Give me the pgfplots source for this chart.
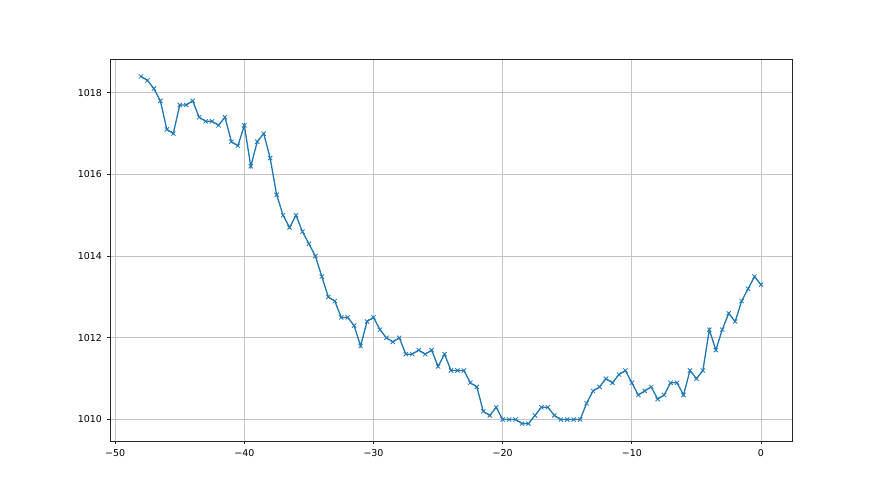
\documentclass[border=0pt]{standalone}
\usepackage{fontspec}
\setmainfont{DejaVu Sans}
\usepackage{pgfplots}
\pgfplotsset{compat=1.18}
\definecolor{mplblue}{HTML}{1F77B4}
\definecolor{gridgray}{HTML}{C4C4C4}
\begin{document}
\begin{tikzpicture}
\path[use as bounding box] (0,0) rectangle (880bp,495bp);
\begin{axis}[
  at={(110bp,54bp)}, anchor=south west,
  scale only axis, width=682bp, height=382bp,
  xmin=-50.4, xmax=2.4, ymin=1009.475, ymax=1018.825,
  xtick={-50,-40,-30,-20,-10,0},
  xticklabels={−50,−40,−30,−20,−10,0},
  ytick={1010,1012,1014,1016,1018},
  yticklabels={1010,1012,1014,1016,1018},
  tick pos=left, tick align=outside,
  major tick length=3.5bp,
  every tick/.style={black!85, line width=0.8bp},
  grid=major,
  major grid style={gridgray, line width=0.8bp},
  axis line style={black!85, line width=0.8bp},
  tick label style={font=\fontsize{9.5}{12}\selectfont},
  xticklabel style={yshift=-1bp},
  yticklabel style={xshift=-1bp},
]
\addplot[mplblue, line width=1.3bp, mark=x, mark size=3bp, mark options={line width=0.8bp}] coordinates {
(-48,1018.4) (-47.5,1018.3) (-47,1018.1) (-46.5,1017.8) (-46,1017.1) (-45.5,1017.0)
(-45,1017.7) (-44.5,1017.7) (-44,1017.8) (-43.5,1017.4) (-43,1017.3) (-42.5,1017.3)
(-42,1017.2) (-41.5,1017.4) (-41,1016.8) (-40.5,1016.7) (-40,1017.2) (-39.5,1016.2)
(-39,1016.8) (-38.5,1017.0) (-38,1016.4) (-37.5,1015.5) (-37,1015.0) (-36.5,1014.7)
(-36,1015.0) (-35.5,1014.6) (-35,1014.3) (-34.5,1014.0) (-34,1013.5) (-33.5,1013.0)
(-33,1012.9) (-32.5,1012.5) (-32,1012.5) (-31.5,1012.3) (-31,1011.8) (-30.5,1012.4)
(-30,1012.5) (-29.5,1012.2) (-29,1012.0) (-28.5,1011.9) (-28,1012.0) (-27.5,1011.6)
(-27,1011.6) (-26.5,1011.7) (-26,1011.6) (-25.5,1011.7) (-25,1011.3) (-24.5,1011.6)
(-24,1011.2) (-23.5,1011.2) (-23,1011.2) (-22.5,1010.9) (-22,1010.8) (-21.5,1010.2)
(-21,1010.1) (-20.5,1010.3) (-20,1010.0) (-19.5,1010.0) (-19,1010.0) (-18.5,1009.9)
(-18,1009.9) (-17.5,1010.1) (-17,1010.3) (-16.5,1010.3) (-16,1010.1) (-15.5,1010.0)
(-15,1010.0) (-14.5,1010.0) (-14,1010.0) (-13.5,1010.4) (-13,1010.7) (-12.5,1010.8)
(-12,1011.0) (-11.5,1010.9) (-11,1011.1) (-10.5,1011.2) (-10,1010.9) (-9.5,1010.6)
(-9,1010.7) (-8.5,1010.8) (-8,1010.5) (-7.5,1010.6) (-7,1010.9) (-6.5,1010.9)
(-6,1010.6) (-5.5,1011.2) (-5,1011.0) (-4.5,1011.2) (-4,1012.2) (-3.5,1011.7)
(-3,1012.2) (-2.5,1012.6) (-2,1012.4) (-1.5,1012.9) (-1,1013.2) (-0.5,1013.5)
(0,1013.3)
};
\end{axis}
\end{tikzpicture}
\end{document}
